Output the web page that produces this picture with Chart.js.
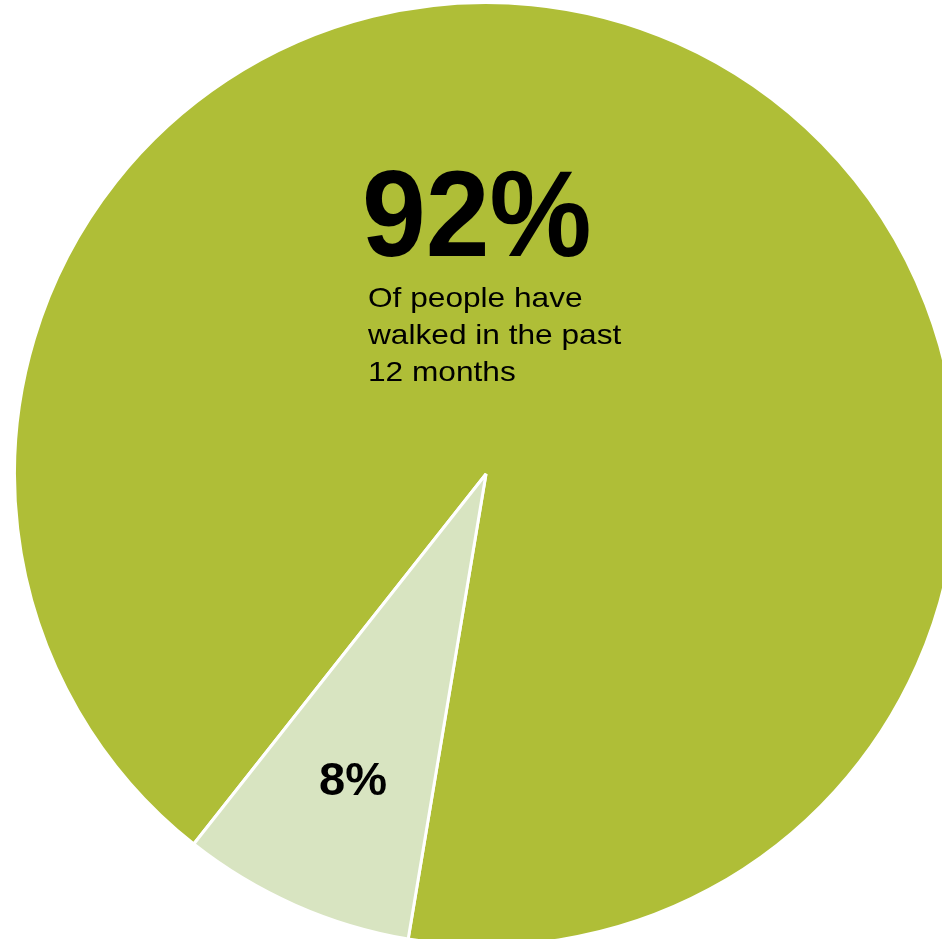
<!DOCTYPE html>
<html>
<head>
<meta charset="utf-8">
<title>Walking in the past 12 months</title>
<script src="https://cdn.jsdelivr.net/npm/chart.js@4/dist/chart.umd.min.js"></script>
<style>
  html, body { margin: 0; padding: 0; background: #fff; overflow: hidden; }
  body { width: 942px; height: 939px; position: relative; }
  #wrap { position: absolute; left: 13px; top: 1px; width: 946px; height: 946px; }
</style>
</head>
<body>
<div id="wrap"><canvas id="graficoPizza" width="946" height="946"></canvas></div>
<script>
// valores do gráfico
const categorias = ["Walked in the past 12 months", "Not walked"];
const valores = [92, 8];
const cores = ["#afbe37", "#d8e4c1"];
const legendaPrincipal = ["Of people have", "walked in the past", "12 months"];

// escreve texto com escala horizontal (fonte mais larga / mais estreita)
function textoEscalado(ctx, texto, x, y, escalaX) {
    ctx.save();
    ctx.translate(x, y);
    ctx.scale(escalaX, 1);
    ctx.fillText(texto, 0, 0);
    ctx.restore();
}

// escreve as porcentagens por cima das fatias
const textoPizza = {
    id: "textoPizza",
    afterDatasetsDraw(chart) {
        const ctx = chart.ctx;
        const total = valores.reduce((a, b) => a + b, 0);
        const pct = valores.map(v => Math.round(v / total * 100) + "%");
        const off = chart.canvas.getBoundingClientRect();
        ctx.save();
        ctx.translate(-off.left, -off.top); // coordenadas da página
        ctx.fillStyle = "#000";
        ctx.textBaseline = "alphabetic";

        ctx.textAlign = "left";
        ctx.font = "bold 122px 'Liberation Sans', Arial, sans-serif";
        textoEscalado(ctx, pct[0], 362, 256, 0.94);

        ctx.font = "28px 'Liberation Sans', Arial, sans-serif";
        legendaPrincipal.forEach((linha, i) => {
            textoEscalado(ctx, linha, 368, 307 + i * 37, 1.13);
        });

        ctx.textAlign = "center";
        ctx.font = "bold 47px 'Liberation Sans', Arial, sans-serif";
        ctx.fillText(pct[1], 353, 795);
        ctx.restore();
    }
};

const ctx = document.getElementById("graficoPizza").getContext("2d");
new Chart(ctx, {
    type: "pie",
    data: {
        labels: categorias,
        datasets: [{
            data: valores,
            backgroundColor: cores,
            borderColor: "#ffffff",
            borderWidth: 3
        }]
    },
    options: {
        responsive: false,
        animation: false,
        rotation: 218.3,
        layout: { padding: 0 },
        plugins: {
            legend: { display: false },
            tooltip: { enabled: false }
        }
    },
    plugins: [textoPizza]
});
</script>
</body>
</html>
